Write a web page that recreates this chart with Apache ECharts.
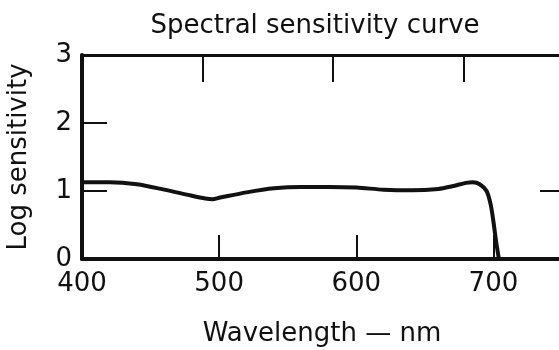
<!DOCTYPE html>
<html><head><meta charset="utf-8">
<script src="https://cdn.jsdelivr.net/npm/echarts@6/dist/echarts.min.js"></script>
<style>html,body{margin:0;padding:0;background:#fff}#c{width:559px;height:350px}</style>
</head><body><div id="c"></div>
<script>
const titleText = "Spectral sensitivity curve";
const xName = "Wavelength \u2014 nm";
const yName = "Log sensitivity";
const wavelengths = [400,420,440,460,480,490,495,500,520,540,560,580,600,620,640,660,670,680,685,690,695,698,700,702,704];
const logSens =     [1.13,1.13,1.10,1.02,0.93,0.89,0.88,0.90,0.98,1.04,1.06,1.06,1.05,1.02,1.01,1.03,1.07,1.12,1.13,1.10,1.00,0.80,0.55,0.25,0];
const topTickMarks = [488, 583, 678];
const rightTickMarks = [1];

const font = "'DejaVu Sans', sans-serif";
const ink = "#111";
const chart = echarts.init(document.getElementById('c'));
chart.setOption({
  animation: false,
  title: { text: titleText, left: 310, top: 8, textAlign: 'center',
    textStyle: { fontFamily: font, fontSize: 26, fontWeight: 'normal', color: ink } },
  grid: { left: 82, right: -3, top: 55, bottom: 91, containLabel: false, outerBoundsMode: 'none' },
  xAxis: [{
    type: 'value', min: 400, max: 750, interval: 100, position: 'bottom',
    name: xName, nameLocation: 'middle', nameGap: 62,
    nameTextStyle: { fontFamily: font, fontSize: 26, color: ink },
    axisLine: { show: true, onZero: false, lineStyle: { color: ink, width: 4 } },
    axisTick: { show: true, inside: true, length: 24, lineStyle: { color: ink, width: 2 } },
    axisLabel: { fontFamily: font, fontSize: 26, color: ink, margin: 12, showMaxLabel: false },
    splitLine: { show: false }
  }, {
    type: 'value', min: 400, max: 750, position: 'top',
    axisLine: { show: true, onZero: false, lineStyle: { color: ink, width: 3 } },
    axisTick: { show: true, inside: true, length: 27, customValues: topTickMarks, lineStyle: { color: ink, width: 2 } },
    axisLabel: { show: false }, splitLine: { show: false }
  }],
  yAxis: [{
    type: 'value', min: 0, max: 3, interval: 1, position: 'left',
    name: yName, nameLocation: 'middle', nameGap: 50,
    nameTextStyle: { fontFamily: font, fontSize: 26, color: ink },
    axisLine: { show: true, onZero: false, lineStyle: { color: ink, width: 4 } },
    axisTick: { show: true, inside: true, length: 25, lineStyle: { color: ink, width: 2 } },
    axisLabel: { fontFamily: font, fontSize: 26, color: ink, margin: 10 },
    splitLine: { show: false }
  }, {
    type: 'value', min: 0, max: 3, position: 'right',
    axisLine: { show: true, onZero: false, lineStyle: { color: ink, width: 3 } },
    axisTick: { show: true, inside: true, length: 22, customValues: rightTickMarks, lineStyle: { color: ink, width: 2 } },
    axisLabel: { show: false }, splitLine: { show: false }
  }],
  series: [{
    type: 'line', xAxisIndex: 0, yAxisIndex: 0,
    data: wavelengths.map((w, i) => [w, logSens[i]]),
    smooth: 0.3, showSymbol: false,
    lineStyle: { color: ink, width: 4 }
  }]
});
</script></body></html>
